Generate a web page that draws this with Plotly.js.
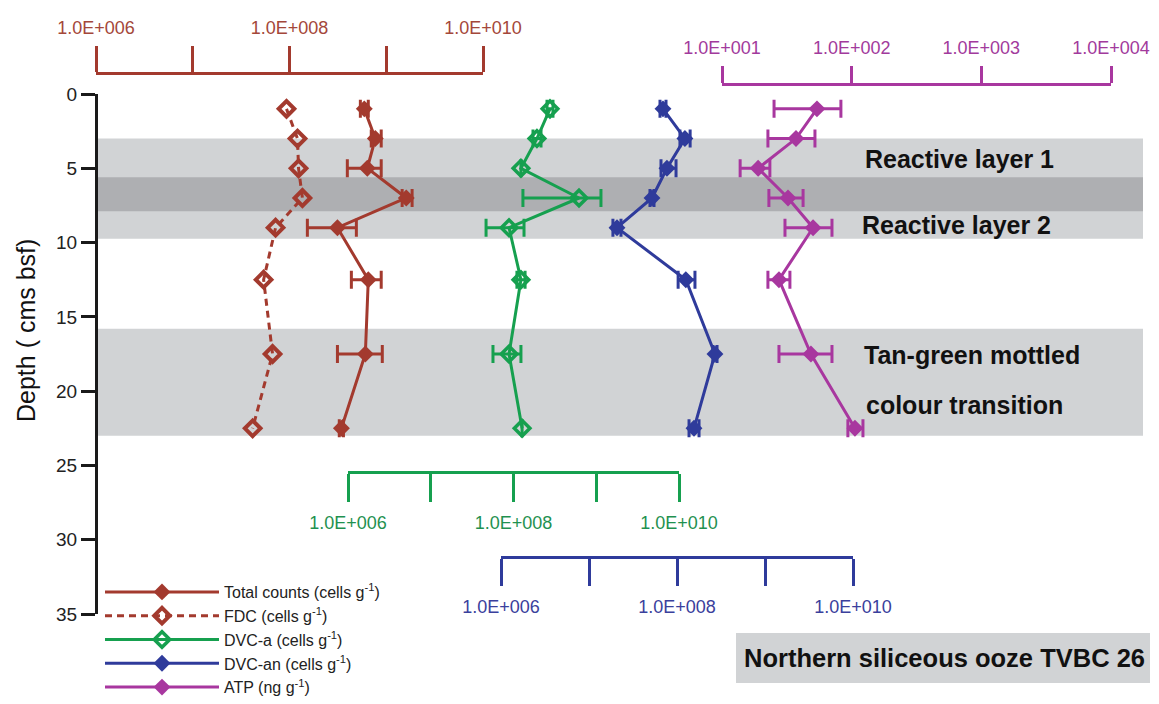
<!DOCTYPE html>
<html>
<head>
<meta charset="utf-8">
<script src="https://cdn.plot.ly/plotly-3.0.1.min.js"></script>
<style>
  html, body { margin: 0; padding: 0; background: #ffffff; }
  #chart { width: 1159px; height: 704px; }
</style>
</head>
<body>
<div id="chart"></div>
<script>
// Sample depths (cm below sea floor)
const depth = [1, 3, 5, 7, 9, 12.5, 17.5, 22.5];

// Total counts (cells g-1) with lower / upper error bounds
const totalCounts     = [5.93e8, 7.71e8, 6.37e8, 1.61e9, 3.13e8, 6.52e8, 6.08e8, 3.44e8];
const totalCountsLow  = [5.40e8, 7.00e8, 3.96e8, 1.46e9, 1.53e8, 4.36e8, 3.13e8, 3.27e8];
const totalCountsHigh = [6.52e8, 8.87e8, 8.87e8, 1.85e9, 4.91e8, 8.87e8, 9.10e8, 3.61e8];

// FDC (cells g-1)
const fdc = [9.31e7, 1.21e8, 1.24e8, 1.36e8, 7.18e7, 5.40e7, 6.68e7, 4.16e7];

// DVC-a (cells g-1)
const dvcA     = [2.76e8, 1.92e8, 1.23e8, 6.19e8, 8.83e7, 1.23e8, 8.83e7, 1.27e8];
const dvcALow  = [2.54e8, 1.72e8, 1.23e8, 1.30e8, 4.66e7, 1.10e8, 5.65e7, 1.27e8];
const dvcAHigh = [3.00e8, 2.15e8, 1.23e8, 1.14e9, 1.34e8, 1.38e8, 1.23e8, 1.27e8];

// DVC-an (cells g-1)
const dvcAn     = [6.93e7, 1.23e8, 7.69e7, 5.20e7, 2.08e7, 1.26e8, 2.70e8, 1.56e8];
const dvcAnLow  = [6.41e7, 1.08e8, 6.58e7, 4.93e7, 1.87e7, 1.03e8, 2.56e8, 1.37e8];
const dvcAnHigh = [7.50e7, 1.41e8, 9.75e7, 5.48e7, 2.31e7, 1.60e8, 2.85e8, 1.78e8];

// ATP (ng g-1)
const atp     = [54.0, 37.2, 19.0, 32.3, 50.4, 27.5, 48.5, 106];
const atpLow  = [25.2, 22.6, 13.8, 23.0, 30.6, 22.6, 27.5, 93.5];
const atpHigh = [82.6, 52.1, 23.4, 42.2, 70.5, 33.4, 70.5, 122.2];

// Axis ticks
const cellTicks      = [1e6, 1e8, 1e10];
const cellTickText   = ['1.0E+006', '1.0E+008', '1.0E+010'];
const cellMinorTicks = [1e7, 1e9];
const atpTicks       = [10, 100, 1000, 10000];
const atpTickText    = ['1.0E+001', '1.0E+002', '1.0E+003', '1.0E+004'];
const depthTicks     = [0, 5, 10, 15, 20, 25, 30, 35];

// Sediment zones (depth ranges)
const zoneTops    = [3, 5.6, 15.8];
const zoneBottoms = [9.75, 7.9, 23];
const zoneShades  = ['#d1d3d5', '#aeafb2', '#d1d3d5'];

const W = 1159, H = 704;
const px = x => x / W;
const py = y => 1 - y / H;

const RED = '#a33a2e', GREEN = '#16a04f', BLUE = '#2f3b9b', MAGENTA = '#a8379f';
const SANS = '"Liberation Sans", Arial, sans-serif';

const plus  = (v, hi) => hi.map((h, i) => h - v[i]);
const minus = (v, lo) => lo.map((l, i) => v[i] - l);

function errBar(v, lo, hi, color) {
  return {
    type: 'data', symmetric: false,
    array: plus(v, hi), arrayminus: minus(v, lo),
    color: color, thickness: 3, width: 9
  };
}

const traces = [
  {
    name: 'Total counts (cells g<sup>-1</sup>)',
    x: totalCounts, y: depth, xaxis: 'x', yaxis: 'y',
    mode: 'lines+markers', type: 'scatter',
    line: { color: RED, width: 3 },
    marker: { symbol: 'diamond', size: 13, color: RED },
    error_x: errBar(totalCounts, totalCountsLow, totalCountsHigh, RED)
  },
  {
    name: 'FDC (cells g<sup>-1</sup>)',
    x: fdc, y: depth, xaxis: 'x', yaxis: 'y',
    mode: 'lines+markers', type: 'scatter',
    line: { color: RED, width: 3, dash: '7px,5px' },
    marker: { symbol: 'diamond-open', size: 12, color: RED, line: { width: 4, color: RED } }
  },
  {
    name: 'DVC-a (cells g<sup>-1</sup>)',
    x: dvcA, y: depth, xaxis: 'x2', yaxis: 'y',
    mode: 'lines+markers', type: 'scatter',
    line: { color: GREEN, width: 3 },
    marker: { symbol: 'diamond-open', size: 12, color: GREEN, line: { width: 3.5, color: GREEN } },
    error_x: errBar(dvcA, dvcALow, dvcAHigh, GREEN)
  },
  {
    name: 'DVC-an (cells g<sup>-1</sup>)',
    x: dvcAn, y: depth, xaxis: 'x3', yaxis: 'y',
    mode: 'lines+markers', type: 'scatter',
    line: { color: BLUE, width: 3 },
    marker: { symbol: 'diamond', size: 13, color: BLUE },
    error_x: errBar(dvcAn, dvcAnLow, dvcAnHigh, BLUE)
  },
  {
    name: 'ATP (ng g<sup>-1</sup>)',
    x: atp, y: depth, xaxis: 'x4', yaxis: 'y',
    mode: 'lines+markers', type: 'scatter',
    line: { color: MAGENTA, width: 3 },
    marker: { symbol: 'diamond', size: 13, color: MAGENTA },
    error_x: errBar(atp, atpLow, atpHigh, MAGENTA)
  }
];

function bracketAxis(color, labelColor, range, domain, pos, side, ticklen, vals, text, minorVals) {
  const ax = {
    type: 'log', range: range, domain: domain,
    anchor: 'free', position: pos, side: side,
    showline: true, linecolor: color, linewidth: 3,
    ticks: 'outside', ticklen: ticklen, tickwidth: 3, tickcolor: color,
    tickmode: 'array', tickvals: vals, ticktext: text,
    tickfont: { family: SANS, size: 18, color: labelColor },
    ticklabelstandoff: 5,
    showgrid: false, zeroline: false, fixedrange: true
  };
  if (minorVals) {
    ax.minor = {
      tickmode: 'array', tickvals: minorVals,
      ticks: 'outside', ticklen: ticklen, tickwidth: 3, tickcolor: color,
      showgrid: false
    };
  }
  return ax;
}

const shapes = zoneTops.map((t, i) => ({
  type: 'rect', layer: 'below',
  xref: 'paper', yref: 'y',
  x0: px(97), x1: px(1143), y0: t, y1: zoneBottoms[i],
  fillcolor: zoneShades[i], line: { width: 0 }
}));
shapes.push({
  type: 'rect', layer: 'below', xref: 'paper', yref: 'paper',
  x0: px(736), x1: px(1150), y0: py(683), y1: py(633),
  fillcolor: '#d1d3d5', line: { width: 0 }
});

const boldNote = (txt, x, y) => ({
  text: txt, xref: 'paper', yref: 'paper', x: px(x), y: py(y),
  xanchor: 'left', yanchor: 'middle', showarrow: false,
  font: { family: SANS, size: 25, color: '#111111', weight: 'bold' }
});

const layout = {
  width: W, height: H, autosize: false,
  margin: { l: 0, r: 0, t: 0, b: 0, autoexpand: false },
  paper_bgcolor: '#ffffff', plot_bgcolor: 'rgba(0,0,0,0)',
  xaxis:  bracketAxis(RED, '#a4473a', [6, 10], [px(96), px(483)], py(73), 'top', 26, cellTicks, cellTickText, cellMinorTicks),
  xaxis2: bracketAxis(GREEN, '#1f9150', [6, 10], [px(348), px(679)], py(472), 'bottom', 28, cellTicks, cellTickText, cellMinorTicks),
  xaxis3: bracketAxis(BLUE, '#3a409c', [6, 10], [px(501), px(853)], py(557), 'bottom', 27, cellTicks, cellTickText, cellMinorTicks),
  xaxis4: bracketAxis(MAGENTA, '#a23a9c', [1, 4], [px(722), px(1111)], py(84), 'top', 17, atpTicks, atpTickText, null),
  yaxis: {
    range: [35, 0], domain: [py(614), py(94)],
    anchor: 'free', position: px(96), side: 'left',
    showline: true, linecolor: '#1a1a1a', linewidth: 3,
    ticks: 'outside', ticklen: 14, tickwidth: 3, tickcolor: '#1a1a1a',
    tickmode: 'array', tickvals: depthTicks,
    tickfont: { family: SANS, size: 19, color: '#222222' },
    showgrid: false, zeroline: false, fixedrange: true
  },
  shapes: shapes,
  annotations: [
    boldNote('Reactive layer 1', 863, 159),
    boldNote('Reactive layer 2', 860, 225),
    boldNote('Tan-green mottled', 862, 355),
    boldNote('colour transition', 864, 405),
    {
      text: 'Northern siliceous ooze TVBC 26', xref: 'paper', yref: 'paper',
      x: px(944), y: py(658), xanchor: 'center', yanchor: 'middle', showarrow: false,
      font: { family: SANS, size: 25.5, color: '#111111', weight: 'bold' }
    },
    {
      text: 'Depth ( cms bsf)', xref: 'paper', yref: 'paper',
      x: px(26), y: py(331), xanchor: 'center', yanchor: 'middle', showarrow: false,
      textangle: -90,
      font: { family: SANS, size: 25, color: '#111111' }
    }
  ],
  showlegend: true,
  legend: {
    x: px(100), y: py(575), xanchor: 'left', yanchor: 'top',
    bgcolor: 'rgba(0,0,0,0)', borderwidth: 0,
    font: { family: SANS, size: 16, color: '#222222' },
    tracegroupgap: 0, itemwidth: 114
  }
};

Plotly.newPlot('chart', traces, layout, { displayModeBar: false, staticPlot: true });
</script>
</body>
</html>
